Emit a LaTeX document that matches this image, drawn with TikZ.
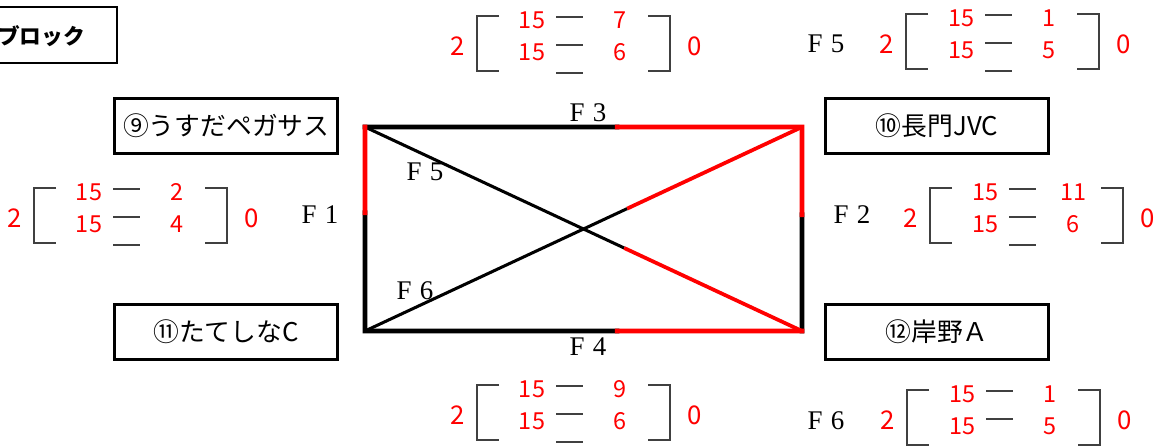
\documentclass[tikz,border=0pt]{standalone}
\usepackage{fontspec}
\setmainfont{Liberation Serif}
\newfontfamily\jpfont{Noto Sans CJK JP}
\usetikzlibrary{calc}

\tikzset{
  team/.style={draw, line width=3pt, minimum width=6.7cm, minimum height=1.65cm,
    font=\jpfont\fontsize{22}{22}\selectfont},
  court/.style={line width=4pt, line cap=rect},
  diag/.style={line width=2.6pt},
  won/.style={red},
  pts/.style={text=red, inner sep=0pt, font=\jpfont\fontsize{20}{20}\selectfont},
  sets/.style={pts, font=\jpfont\fontsize{22}{22}\selectfont},
  bracket/.style={line width=1.3pt, black!75},
  game/.style={inner sep=0pt, font=\fontsize{23}{23}\selectfont},
}

% one set score: name, left bracket corner, right-hand points
\newcommand{\scorebox}[5]{%
  \begin{scope}[shift={(#2,#3)}]
    \node[sets] (#1w) at (-19,30) {2};
    \node[pts] (#1a) at (55,4) {15};
    \node[pts] (#1b) at (143,4) {#4};
    \node[pts] (#1c) at (55,36) {15};
    \node[pts] (#1d) at (143,36) {#5};
    \node[sets] (#1l) at (218,30) {0};
    \draw[bracket] (22,0) -- (0,0) -- (0,55) -- (22,55);
    \draw[bracket] (171,0) -- (193,0) -- (193,55) -- (171,55);
    \foreach \y in {1,29,57} \draw[bracket] (79,\y) -- (106,\y);
  \end{scope}}

\begin{document}
\begin{tikzpicture}[x=0.03cm, y=-0.03cm]
  \useasboundingbox (0,0) rectangle (1164,446);

  % block title
  \node (blk) [anchor=east, inner sep=0pt, font=\jpfont\bfseries\fontsize{18.5}{18.5}\selectfont] at (85,36) {ブロック};
  \draw[line width=2.5pt] (-10,7) -- (117,7) -- (117,63) -- (-10,63);

  % teams
  \node[team] (t9) at (226,126) {⑨うすだペガサス};
  \node[team] (t10) at (937,126) {⑩長門JVC};
  \node[team] (t11) at (226,332) {⑪たてしなC};
  \node[team] (t12) at (937,332) {⑫岸野Ａ};

  % court corners and where the red part starts
  \coordinate (c9) at (365,127);
  \coordinate (c10) at (802,127);
  \coordinate (c11) at (365,331);
  \coordinate (c12) at (802,331);
  \coordinate (s1) at ($(c9)!0.42!(c11)$);
  \coordinate (s2) at ($(c10)!0.43!(c12)$);
  \coordinate (s3) at ($(c9)!0.577!(c10)$);
  \coordinate (s4) at ($(c11)!0.577!(c12)$);
  \coordinate (s5) at ($(c9)!0.593!(c12)$);
  \coordinate (s6) at ($(c11)!0.60!(c10)$);

  \draw[court] (s1) -- (c11) -- (s4);
  \draw[court] (s2) -- (c12);
  \draw[court] (c9) -- (s3);
  \draw[diag] (c9) -- (s5);
  \draw[diag] (c11) -- (s6);
  \draw[court, won] (c9) -- (s1);
  \draw[court, won] (s3) -- (c10) -- (s2);
  \draw[court, won] (s4) -- (c12);
  \draw[diag, won, line width=3.2pt] (s5) -- (c12);
  \draw[diag, won, line width=3.2pt] (s6) -- (c10);

  % game labels
  \node[game] (g1) at (320,215) {F\hspace{0.3em}1};
  \node[game] (g2) at (852,215) {F\hspace{0.3em}2};
  \node[game] (g3) at (588,113) {F\hspace{0.3em}3};
  \node[game] (g4) at (588,347) {F\hspace{0.3em}4};
  \node[game] (g5) at (425,172) {F\hspace{0.3em}5};
  \node[game] (g6) at (415,291) {F\hspace{0.3em}6};
  \node[game] (g5b) at (826,44) {F\hspace{0.3em}5};
  \node[game] (g6b) at (826,421) {F\hspace{0.3em}6};

  % scores
  \scorebox{f1}{34}{188}{2}{4}
  \scorebox{f2}{930}{188}{11}{6}
  \scorebox{f3}{477}{16}{7}{6}
  \scorebox{f4}{477}{385}{9}{6}
  \scorebox{f5}{906}{14}{1}{5}
  \scorebox{f6}{907}{390}{1}{5}
\end{tikzpicture}
\end{document}
